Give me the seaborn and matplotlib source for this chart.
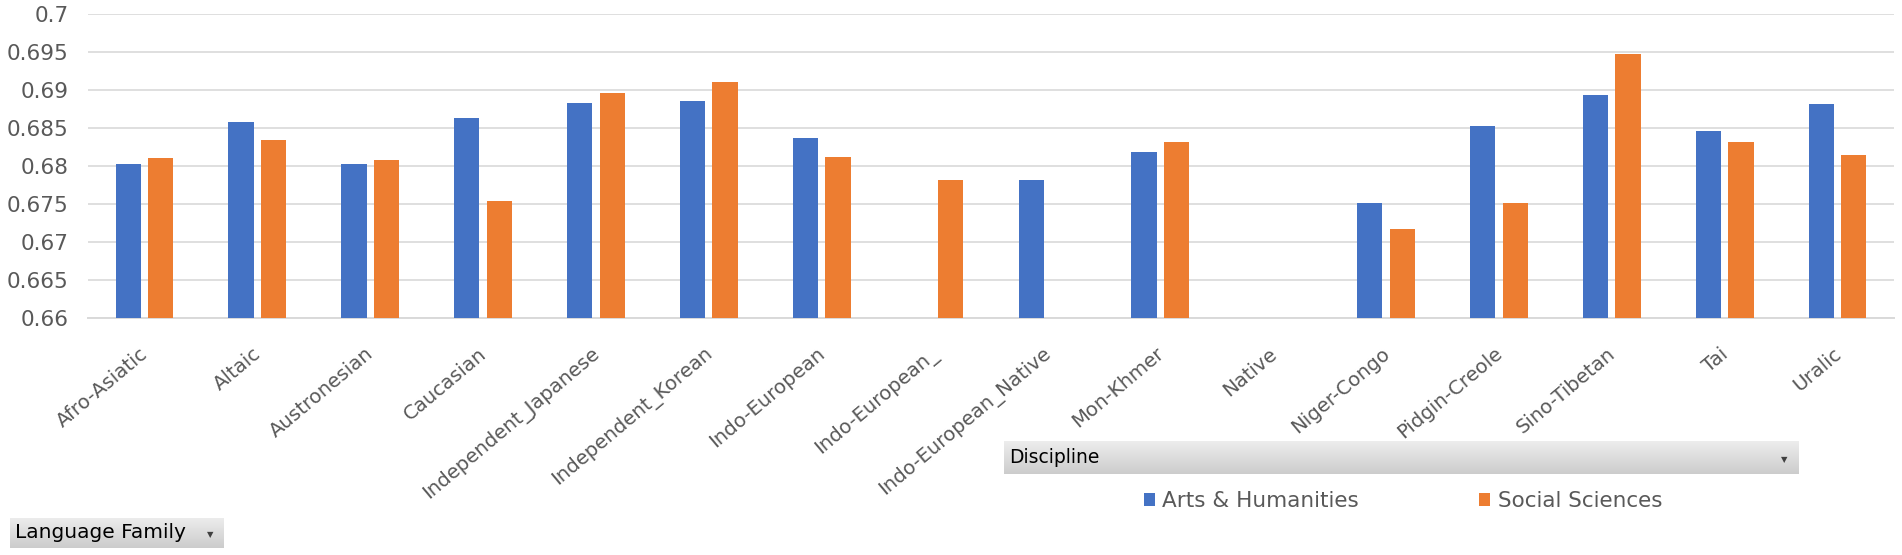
import numpy as np
import pandas as pd
import seaborn as sns
import matplotlib
matplotlib.use("Agg")
import matplotlib.pyplot as plt
from matplotlib.ticker import FuncFormatter, MultipleLocator
from matplotlib.transforms import ScaledTranslation
from matplotlib.patches import Patch

# ---- data ----
families = ["Afro-Asiatic", "Altaic", "Austronesian", "Caucasian", "Independent_Japanese",
            "Independent_Korean", "Indo-European", "Indo-European_", "Indo-European_Native",
            "Mon-Khmer", "Native", "Niger-Congo", "Pidgin-Creole", "Sino-Tibetan", "Tai", "Uralic"]
arts_humanities = [0.6802, 0.6858, 0.6803, 0.6863, 0.6883, 0.6886, 0.6837, np.nan, 0.6781,
                   0.6819, np.nan, 0.6751, 0.6853, 0.6894, 0.6846, 0.6882]
social_sciences = [0.6811, 0.6834, 0.6808, 0.6754, 0.6896, 0.6911, 0.6812, 0.6781, np.nan,
                   0.6831, np.nan, 0.6717, 0.6751, 0.6947, 0.6831, 0.6815]
disciplines = ["Arts & Humanities", "Social Sciences"]
colors = ["#4472C4", "#ED7D31"]

df = pd.DataFrame({
    "Language Family": families * 2,
    "Discipline": [disciplines[0]] * len(families) + [disciplines[1]] * len(families),
    "Value": arts_humanities + social_sciences,
})

TXT = "#595959"
GRID = "#D9D9D9"
FS = 15.5
plt.rcParams["font.family"] = ["DejaVu Sans"]

fig = plt.figure(figsize=(19.02, 5.55), dpi=100)
ax = fig.add_axes([88 / 1902, 1 - 318 / 555, (1894 - 88) / 1902, (318 - 14) / 555])

sns.barplot(data=df, x="Language Family", y="Value", hue="Discipline",
            order=families, hue_order=disciplines, palette=colors, saturation=1,
            width=0.575, gap=0.22, errorbar=None, legend=False, ax=ax, zorder=2)

ax.set_ylim(0.66, 0.70)
ax.yaxis.set_major_locator(MultipleLocator(0.005))
ax.yaxis.set_major_formatter(FuncFormatter(lambda v, p: f"{round(v, 3):g}"))
ax.set_xlim(-0.5, len(families) - 0.5)
ax.set_xlabel("")
ax.set_ylabel("")
ax.grid(axis="y", color=GRID, linewidth=1.2, zorder=0)
ax.grid(axis="x", visible=False)
ax.set_axisbelow(True)
ax.axhline(0.66, color=GRID, linewidth=1.4, zorder=1, clip_on=False)
for s in ax.spines.values():
    s.set_visible(False)
ax.tick_params(axis="y", length=0, pad=14, labelsize=FS, labelcolor=TXT)
ax.tick_params(axis="x", length=0, pad=24, labelsize=14.2, labelcolor=TXT)
ax.set_xticks(range(len(families)))
ax.set_xticklabels(families, rotation=40, ha="right", va="center", rotation_mode="anchor")
for lab in ax.get_xticklabels():
    lab.set_transform(lab.get_transform() + ScaledTranslation(0.01, 0, fig.dpi_scale_trans))

# legend
handles = [Patch(facecolor=c, edgecolor="none") for c in colors]
fig.legend(handles, disciplines, loc="center", bbox_to_anchor=(1403 / 1902, 0.097), ncol=2,
           frameon=False, fontsize=FS, labelcolor=TXT, handlelength=0.5, handleheight=0.5,
           handletextpad=0.35, columnspacing=5.6)

# pivot-style field buttons
def button(x0, x1, y0, y1, label, fs):
    bax = fig.add_axes([x0 / 1902, 1 - y1 / 555, (x1 - x0) / 1902, (y1 - y0) / 555])
    grad = np.linspace(0.93, 0.80, 50).reshape(-1, 1)
    bax.imshow(np.dstack([grad, grad, grad]), aspect="auto", extent=[0, 1, 0, 1])
    bax.set_axis_off()
    bax.text(5 / (x1 - x0), 0.5, label, fontsize=fs, color="black", va="center", ha="left")
    bax.text(1 - 14 / (x1 - x0), 0.45, "▼", fontsize=6, color="#404040", va="center", ha="center")

button(1004, 1798, 441, 474, "Discipline", 13.5)
button(10, 224, 518, 548, "Language Family", 14.5)

fig.savefig("out.png", dpi=100)
